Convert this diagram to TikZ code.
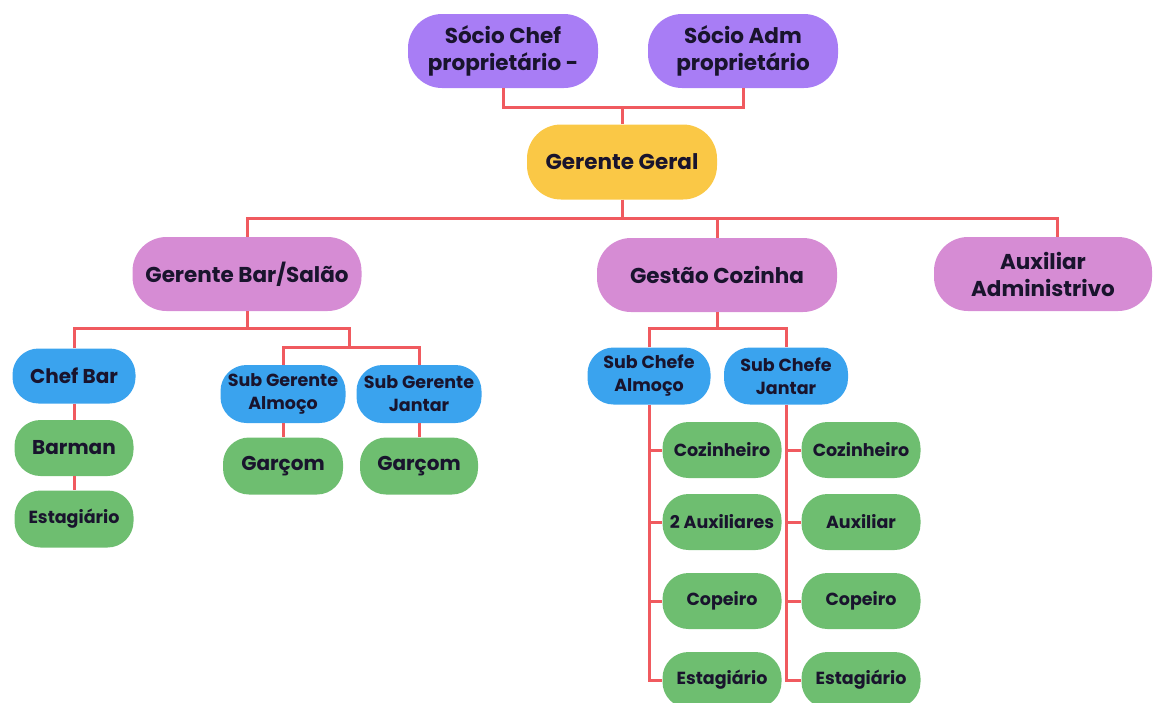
\documentclass[tikz,border=0pt]{standalone}
\usepackage{fontspec}
\setmainfont{Poppins}
\definecolor{purp}{RGB}{168,125,245}
\definecolor{gold}{RGB}{250,200,70}
\definecolor{orch}{RGB}{214,140,212}
\definecolor{blu}{RGB}{58,163,238}
\definecolor{grn}{RGB}{110,190,112}
\definecolor{lnc}{RGB}{240,90,95}
\definecolor{txt}{RGB}{25,20,45}
\tikzset{
  box/.style 2 args={inner sep=0pt, align=center, text=txt, minimum width=#1pt, minimum height=#2pt},
  big/.style={rounded corners=34pt, font=\fontsize{21.5}{27}\selectfont\bfseries},
  mid/.style={rounded corners=26pt, font=\fontsize{20}{24}\selectfont\bfseries},
  sml/.style={rounded corners=26pt, font=\fontsize{17.5}{23}\selectfont\bfseries},
  conn/.style={draw=lnc, line width=3pt},
}
\begin{document}
\begin{tikzpicture}[x=1pt,y=-1pt]
\useasboundingbox (0,0) rectangle (1153,702);
% top level
\node[box={190}{74}, big, fill=purp] (sc) at (503,51) {Sócio Chef\\proprietário -};
\node[box={190}{74}, big, fill=purp] (sa) at (743,51) {Sócio Adm\\proprietário};
\node[box={190}{75}, big, fill=gold] (gg) at (622,162) {Gerente Geral};
% second level
\node[box={229}{74}, big, fill=orch] (gb) at (247,274) {Gerente Bar/Salão};
\node[box={240}{74}, big, fill=orch] (gc) at (717,275) {Gestão Cozinha};
\node[box={218}{74}, big, fill=orch] (aa) at (1043,274) {Auxiliar\\Administrivo};
% bar branch
\node[box={123}{55}, mid, fill=blu] (cb) at (74,376) {Chef Bar};
\node[box={119}{56}, mid, fill=grn] (bm) at (74,448) {Barman};
\node[box={119}{57}, sml, fill=grn] (eb) at (74,519) {Estagiário};
\node[box={125}{58}, sml, fill=blu] (sga) at (283,394) {Sub Gerente\\Almoço};
\node[box={125}{58}, sml, fill=blu] (sgj) at (419,394) {Sub Gerente\\Jantar};
\node[box={120}{57}, mid, fill=grn] (g1) at (283,466) {Garçom};
\node[box={118}{57}, mid, fill=grn] (g2) at (419,466) {Garçom};
% kitchen branch
\node[box={123}{57}, sml, fill=blu] (sca) at (649,376) {Sub Chefe\\Almoço};
\node[box={124}{57}, sml, fill=blu] (scj) at (786,376) {Sub Chefe\\Jantar};
\node[box={119}{56}, sml, fill=grn] (l1) at (722,450) {Cozinheiro};
\node[box={119}{56}, sml, fill=grn] (l2) at (722,522) {2 Auxiliares};
\node[box={119}{56}, sml, fill=grn] (l3) at (722,601) {Copeiro};
\node[box={119}{56}, sml, fill=grn] (l4) at (722,680) {Estagiário};
\node[box={119}{56}, sml, fill=grn] (r1) at (861,450) {Cozinheiro};
\node[box={119}{56}, sml, fill=grn] (r2) at (861,522) {Auxiliar};
\node[box={119}{56}, sml, fill=grn] (r3) at (861,601) {Copeiro};
\node[box={119}{56}, sml, fill=grn] (r4) at (861,680) {Estagiário};
% junctions
\coordinate (j1) at (622,107);
\coordinate (j2) at (622,218);
\coordinate (j3) at (247,328);
\coordinate (j4) at (349,347);
\coordinate (j5) at (717,328);
\coordinate (aaj) at (1057,237);
% connectors
\draw[conn] (sc.south) -- (sc.south |- j1) -- (sa.south |- j1) -- (sa.south);
\draw[conn] (j1) -- (gg.north);
\draw[conn] (gg.south) -- (j2);
\draw[conn] (gb.north) -- (gb.north |- j2) -- (aaj |- j2) -- (aaj);
\draw[conn] (gc.north) -- (gc.north |- j2);
\draw[conn] (gb.south) -- (j3);
\draw[conn] (cb.north) -- (cb.north |- j3) -- (j4 |- j3) -- (j4);
\draw[conn] (sga.north) -- (sga.north |- j4) -- (sgj.north |- j4) -- (sgj.north);
\draw[conn] (cb.south) -- (bm.north);
\draw[conn] (bm.south) -- (eb.north);
\draw[conn] (sga.south) -- (g1.north);
\draw[conn] (sgj.south) -- (g2.north);
\draw[conn] (gc.south) -- (j5);
\draw[conn] (sca.north) -- (sca.north |- j5) -- (scj.north |- j5) -- (scj.north);
\draw[conn] (sca.south) |- (l4.west);
\draw[conn] (sca.south |- l1.west) -- (l1.west);
\draw[conn] (sca.south |- l2.west) -- (l2.west);
\draw[conn] (sca.south |- l3.west) -- (l3.west);
\draw[conn] (scj.south) |- (r4.west);
\draw[conn] (scj.south |- r1.west) -- (r1.west);
\draw[conn] (scj.south |- r2.west) -- (r2.west);
\draw[conn] (scj.south |- r3.west) -- (r3.west);
\end{tikzpicture}
\end{document}
